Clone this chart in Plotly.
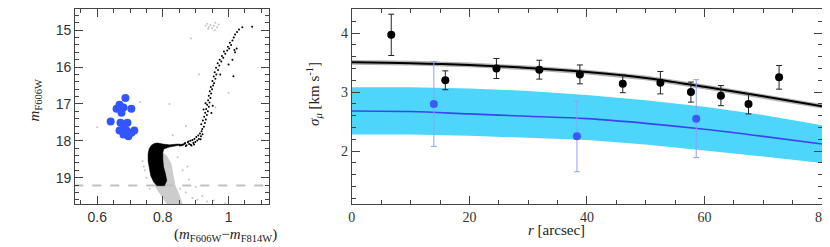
import plotly.graph_objects as go

# ---------------- Left panel: CMD ----------------
hb_color = [0.686, 0.668, 0.659, 0.680, 0.704, 0.674, 0.641, 0.671, 0.692, 0.683,
            0.668, 0.689, 0.713, 0.680, 0.695, 0.704]
hb_mag = [16.84, 17.02, 17.13, 17.10, 17.13, 17.24, 17.48, 17.51, 17.51, 17.61,
          17.72, 17.72, 17.72, 17.83, 17.88, 17.78]

# dense black main-sequence turn-off envelope
msto_color = [0.775, 0.765, 0.758, 0.755, 0.755, 0.758, 0.763, 0.772, 0.782,
              0.805, 0.812, 0.808, 0.802, 0.800, 0.800, 0.803, 0.820, 0.845, 0.862,
              0.845, 0.820, 0.800, 0.785, 0.775]
msto_mag = [18.07, 18.12, 18.22, 18.35, 18.55, 18.75, 18.95, 19.12, 19.22,
            19.22, 19.08, 18.90, 18.70, 18.50, 18.32, 18.22, 18.17, 18.13, 18.10,
            18.09, 18.11, 18.09, 18.06, 18.07]

# grey (faint / non-member) main sequence envelope
grey_ms_color = [0.795, 0.812, 0.826, 0.832, 0.838, 0.850, 0.860, 0.812, 0.792, 0.776, 0.782, 0.795]
grey_ms_mag = [18.30, 18.40, 18.62, 18.90, 19.20, 19.45, 19.72, 19.72, 19.45, 19.25, 18.95, 18.30]

# black member stars (SGB + RGB)
rgb_color = [0.862, 0.868, 0.872, 0.876, 0.880, 0.884, 0.887, 0.890, 0.893, 0.896, 0.899, 0.902,
             0.905, 0.908, 0.910, 0.913, 0.916, 0.918, 0.921, 0.885, 0.878, 0.895, 0.870, 0.915,
             0.920, 0.925, 0.917, 0.928, 0.922, 0.931, 0.926, 0.934, 0.929, 0.937, 0.932, 0.940,
             0.935, 0.942, 0.938, 0.945, 0.940, 0.947, 0.943, 0.950, 0.946, 0.953, 0.930, 0.952,
             0.948, 0.924, 0.956, 0.951, 0.960, 0.955, 0.963, 0.958, 0.968, 0.962, 0.972, 0.967,
             0.978, 0.973, 0.984, 0.980, 0.990, 0.986, 0.996, 1.002, 0.998, 1.008, 1.004, 1.012,
             1.016, 1.020, 1.026, 1.032, 1.042, 1.072, 1.018, 1.025, 1.020, 0.975, 1.015, 1.012,
             1.000, 0.858, 0.852, 0.866]
rgb_mag = [18.10, 18.06, 18.12, 18.04, 18.09, 18.00, 18.13, 17.98, 18.06, 17.95, 18.03, 17.90,
           17.99, 17.86, 17.95, 17.80, 17.88, 17.74, 17.82, 18.11, 18.02, 18.10, 18.14, 17.96,
           17.68, 17.62, 17.55, 17.52, 17.45, 17.42, 17.35, 17.30, 17.24, 17.20, 17.14, 17.08,
           17.02, 16.96, 16.90, 16.84, 16.78, 16.72, 16.66, 16.60, 16.54, 16.50, 16.98, 17.05,
           17.25, 17.15, 16.44, 16.38, 16.32, 16.26, 16.20, 16.14, 16.08, 16.02, 15.96, 15.90,
           15.85, 15.80, 15.75, 15.70, 15.64, 15.58, 15.55, 15.50, 15.45, 15.40, 15.34, 15.28,
           15.20, 15.12, 15.05, 14.98, 14.92, 14.91, 15.54, 15.50, 15.60, 16.20, 16.25, 15.80,
           15.93, 18.12, 18.13, 18.08]

# sparse grey field stars
field_color = [0.930, 0.935, 0.940, 0.945, 0.950, 0.955, 0.960, 0.965, 0.970, 0.938, 0.958,
               0.600, 0.886, 0.893, 0.738, 0.745, 0.750, 0.742, 0.760, 0.853, 0.870, 0.890,
               0.905, 0.920, 0.880, 0.860, 0.900, 0.935, 0.955, 0.990, 0.730, 0.830, 0.820,
               0.960, 1.000, 0.870, 0.910, 0.845, 0.875, 0.840]
field_mag = [14.88, 14.83, 14.92, 14.86, 14.95, 14.88, 14.80, 14.92, 14.85, 14.97, 15.00,
             17.63, 15.23, 18.03, 18.55, 18.80, 19.00, 18.70, 19.30, 19.30, 19.40, 19.55,
             19.60, 19.50, 19.05, 18.80, 19.25, 19.65, 19.62, 19.70, 16.95, 17.85, 17.00,
             17.10, 16.70, 17.60, 16.20, 18.45, 18.70, 19.60]

dash_mag = 19.21

# ---------------- Right panel: dispersion profile ----------------
r_black = [6.7, 15.9, 24.6, 31.9, 38.8, 46.1, 52.5, 57.7, 62.8, 67.5, 72.7]
sig_black = [3.97, 3.20, 3.40, 3.38, 3.30, 3.14, 3.16, 3.00, 2.94, 2.80, 3.25]
err_black = [0.35, 0.16, 0.17, 0.16, 0.16, 0.15, 0.19, 0.17, 0.17, 0.17, 0.20]

r_blue = [13.95, 38.3, 58.6]
sig_blue = [2.80, 2.25, 2.55]
err_blue = [0.72, 0.60, 0.66]

model_r = [0, 10, 20, 30, 40, 50, 60, 70, 80]
black_mid = [3.505, 3.49, 3.46, 3.41, 3.34, 3.24, 3.09, 2.93, 2.76]
black_hi = [3.545, 3.53, 3.50, 3.45, 3.38, 3.28, 3.13, 2.97, 2.80]
black_lo = [3.465, 3.45, 3.42, 3.37, 3.30, 3.20, 3.05, 2.89, 2.72]
blue_mid = [2.68, 2.67, 2.63, 2.59, 2.55, 2.47, 2.37, 2.25, 2.12]
blue_hi = [3.08, 3.08, 3.06, 3.02, 2.95, 2.86, 2.75, 2.61, 2.44]
blue_lo = [2.28, 2.28, 2.26, 2.23, 2.19, 2.11, 2.01, 1.91, 1.80]

fig = go.Figure()

# left panel traces
fig.add_trace(go.Scatter(x=grey_ms_color, y=grey_ms_mag, mode="lines", fill="toself",
                         fillcolor="#cccccc", line=dict(width=0), xaxis="x", yaxis="y",
                         hoverinfo="skip"))
fig.add_trace(go.Scatter(x=field_color, y=field_mag, mode="markers",
                         marker=dict(size=2, color="#c4c4c4"), xaxis="x", yaxis="y"))
fig.add_trace(go.Scatter(x=[0.53, 1.13], y=[dash_mag, dash_mag], mode="lines",
                         line=dict(color="#c0c0c0", width=2, dash="dash"), xaxis="x", yaxis="y"))
fig.add_trace(go.Scatter(x=msto_color, y=msto_mag, mode="lines", fill="toself",
                         fillcolor="#000000", line=dict(width=0.5, color="#000000"),
                         xaxis="x", yaxis="y"))
fig.add_trace(go.Scatter(x=rgb_color, y=rgb_mag, mode="markers",
                         marker=dict(size=2, color="#000000"), xaxis="x", yaxis="y"))
fig.add_trace(go.Scatter(x=hb_color, y=hb_mag, mode="markers",
                         marker=dict(size=8, color="#3355ff"), xaxis="x", yaxis="y"))

# right panel traces
fig.add_trace(go.Scatter(x=model_r + model_r[::-1], y=blue_hi + blue_lo[::-1], mode="lines",
                         fill="toself", fillcolor="#4dd5fb", line=dict(width=0),
                         xaxis="x2", yaxis="y2"))
fig.add_trace(go.Scatter(x=model_r, y=blue_mid, mode="lines", line=dict(color="#3d44ee", width=1.6),
                         line_shape="spline", xaxis="x2", yaxis="y2"))
fig.add_trace(go.Scatter(x=model_r + model_r[::-1], y=black_hi + black_lo[::-1], mode="lines",
                         fill="toself", fillcolor="#b0b0b0", line=dict(width=0),
                         xaxis="x2", yaxis="y2"))
fig.add_trace(go.Scatter(x=model_r, y=black_mid, mode="lines", line=dict(color="#000000", width=2),
                         line_shape="spline", xaxis="x2", yaxis="y2"))
fig.add_trace(go.Scatter(x=r_blue, y=sig_blue, mode="markers",
                         marker=dict(size=8, color="#3a5af8"),
                         error_y=dict(type="data", array=err_blue, color="#8fa0ff", thickness=1, width=3),
                         xaxis="x2", yaxis="y2"))
fig.add_trace(go.Scatter(x=r_black, y=sig_black, mode="markers",
                         marker=dict(size=8, color="#000000"),
                         error_y=dict(type="data", array=err_black, color="#222222", thickness=1, width=3),
                         xaxis="x2", yaxis="y2"))

frame = "#444444"
ax_common = dict(showgrid=False, zeroline=False, showline=True, linecolor=frame, linewidth=1,
                 mirror="ticks", ticks="inside", tickcolor=frame, tickwidth=1)

sans = "Liberation Sans, Arial, sans-serif"
serif = "Liberation Serif, Times New Roman, serif"

y_dom = [0.2065, 0.998]
fig.update_layout(
    width=830, height=247, margin=dict(l=0, r=0, t=0, b=0),
    paper_bgcolor="white", plot_bgcolor="white", showlegend=False,
    xaxis=dict(domain=[0.0783, 0.3145], range=[0.533, 1.123], tick0=0.6, dtick=0.2, ticklen=8,
               tickfont=dict(family=sans, size=14, color="#333333"),
               minor=dict(dtick=0.05, ticklen=4, ticks="inside", tickcolor=frame, tickwidth=1),
               anchor="y", **ax_common),
    yaxis=dict(domain=y_dom, range=[19.72, 14.44], tick0=15, dtick=1, ticklen=8,
               tickfont=dict(family=sans, size=14, color="#333333"),
               minor=dict(dtick=0.2, ticklen=4, ticks="inside", tickcolor=frame, tickwidth=1),
               anchor="x", **ax_common),
    xaxis2=dict(domain=[0.4157, 0.989], range=[0, 80], tick0=0, dtick=20, ticklen=8,
                tickfont=dict(family=serif, size=14, color="#333333"),
                minor=dict(dtick=5, ticklen=4, ticks="inside", tickcolor=frame, tickwidth=1),
                anchor="y2", **ax_common),
    yaxis2=dict(domain=y_dom, range=[1.1, 4.4], tick0=0, dtick=1, ticklen=8,
                tickfont=dict(family=serif, size=14, color="#333333"),
                minor=dict(dtick=0.2, ticklen=4, ticks="inside", tickcolor=frame, tickwidth=1),
                anchor="x2", **ax_common),
)

title_font = dict(family=serif, size=15, color="#222222")
fig.add_annotation(text="(<i>m</i><sub>F606W</sub>−<i>m</i><sub>F814W</sub>)", xref="paper", yref="paper",
                   x=163 / 830, y=(247 - 238) / 247, showarrow=False, font=title_font)
fig.add_annotation(text="<i>m</i><sub>F606W</sub>", xref="paper", yref="paper", textangle=-90,
                   x=13 / 830, y=(247 - 92) / 247, showarrow=False, font=title_font)
fig.add_annotation(text="<i>r</i> [arcsec]", xref="paper", yref="paper",
                   x=583 / 830, y=(247 - 232) / 247, showarrow=False, font=title_font)
fig.add_annotation(text="<i>σ</i><sub><i>μ</i></sub> [km s<sup>-1</sup>]", xref="paper", yref="paper",
                   textangle=-90, x=306 / 830, y=(247 - 85) / 247, showarrow=False, font=title_font)

fig.write_html("out.html")
